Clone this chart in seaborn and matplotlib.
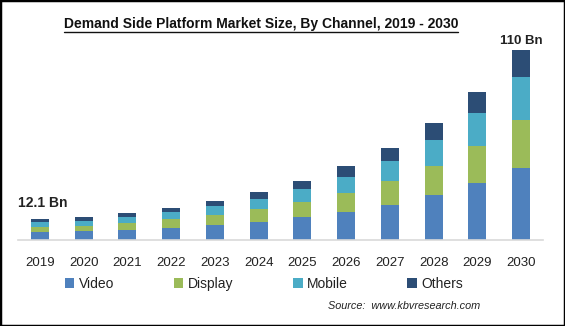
import numpy as np
import pandas as pd
import matplotlib
matplotlib.use("Agg")
import matplotlib.pyplot as plt
import seaborn as sns
from matplotlib.patches import Patch, Rectangle
from matplotlib.lines import Line2D

years = ["2019", "2020", "2021", "2022", "2023", "2024", "2025", "2026", "2027", "2028", "2029", "2030"]
video = [4.8, 5.4, 6.0, 6.9, 8.7, 10.4, 13.3, 16.2, 20.3, 26.0, 33.0, 41.7]
display = [3.0, 2.9, 4.0, 5.2, 5.8, 7.5, 8.7, 11.0, 13.9, 16.8, 21.4, 27.8]
mobile = [2.6, 2.7, 3.1, 4.1, 5.4, 5.8, 7.5, 9.3, 11.6, 15.0, 19.1, 24.9]
others = [1.7, 2.3, 2.5, 2.3, 2.7, 4.1, 4.6, 6.4, 7.5, 9.8, 12.2, 15.6]
series_names = ["Video", "Display", "Mobile", "Others"]
colors = ["#4F81BD", "#9BBB59", "#4BACC6", "#2C4D75"]
first_label = "12.1 Bn"
last_label = "110 Bn"
title = "Demand Side Platform Market Size, By Channel, 2019 - 2030"
source = "Source:  www.kbvresearch.com"

sns.set_theme(style="white")
plt.rcParams["font.family"] = ["Liberation Sans", "DejaVu Sans"]

df = pd.DataFrame({"Year": years, "Video": video, "Display": display,
                   "Mobile": mobile, "Others": others})
cum = df[series_names].cumsum(axis=1)

fig = plt.figure(figsize=(5.65, 3.26), dpi=100)
ax = fig.add_axes([18 / 565, 86 / 326, 525 / 565, (326 - 86) / 326 - 41.4 / 326])

for name, col in reversed(list(zip(series_names, colors))):
    sns.barplot(x=df["Year"], y=cum[name], color=col, ax=ax, width=0.41,
                saturation=1, linewidth=0, edgecolor="none")

ax.set_ylim(0, 115)
ax.set_xlim(-0.5, 11.5)
ax.set_xlabel("")
ax.set_ylabel("")
ax.set_yticks([])
for s in ["top", "right", "left"]:
    ax.spines[s].set_visible(False)
ax.spines["bottom"].set_color("#D9D9D9")
ax.spines["bottom"].set_linewidth(1.2)
ax.tick_params(axis="x", length=0, pad=12, labelsize=9.5, labelcolor="#222222")

# value labels
ax.text(-0.5, cum["Others"].iloc[0] + 5, first_label, ha="left", va="bottom",
        fontsize=10, fontweight="bold", color="#222222")
ax.text(11, cum["Others"].iloc[-1] + 1.5, last_label, ha="center", va="bottom",
        fontsize=9.5, fontweight="bold", color="#222222")

# legend
handles = [Patch(facecolor=c, edgecolor="none", label=n) for n, c in zip(series_names, colors)]
fig.legend(handles=handles, loc="center", bbox_to_anchor=(0.467, 1 - 284 / 326), ncol=4,
           frameon=False, fontsize=10, handlelength=0.7, handleheight=0.7,
           handletextpad=0.3, columnspacing=4.3, labelcolor="#222222")

# title with underline
t = fig.text(0.462, 1 - 24 / 326, title, ha="center", va="center", fontsize=10,
             fontweight="bold", color="#111111")
fig.canvas.draw()
bb = t.get_window_extent(renderer=fig.canvas.get_renderer())
W, H = fig.bbox.width, fig.bbox.height
uy = (bb.y0 - 1) / H
fig.add_artist(Line2D([bb.x0 / W, bb.x1 / W], [uy, uy], color="#111111", linewidth=1.0))

# source
fig.text(0.58, 1 - 306 / 326, source, ha="left", va="center", fontsize=7.8,
         fontstyle="italic", color="#222222")

# border
fig.add_artist(Rectangle((0, 0), 1, 1, transform=fig.transFigure, fill=False,
                         edgecolor="black", linewidth=2.5))

fig.savefig("out.png", dpi=100)
